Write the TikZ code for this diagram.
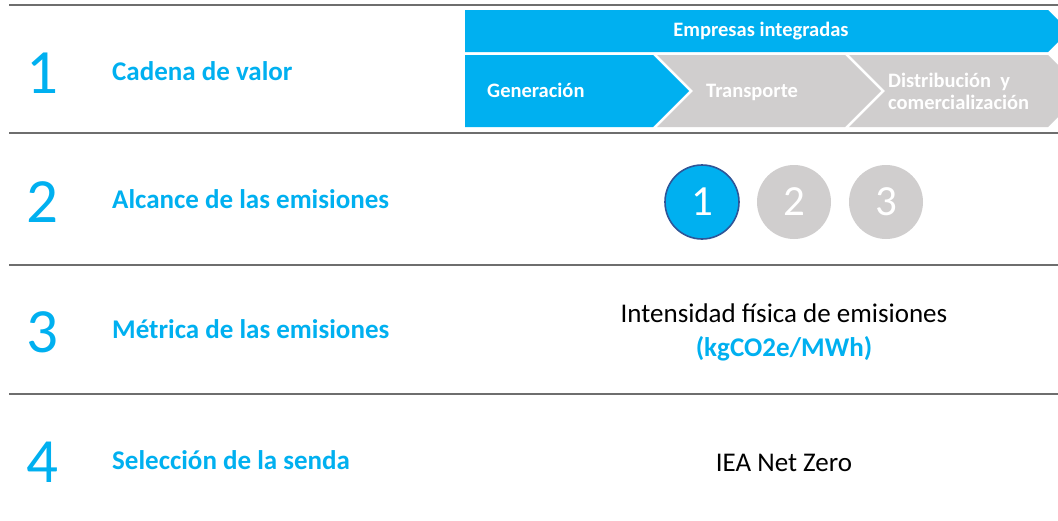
\documentclass[tikz,border=0pt]{standalone}
\usepackage{fontspec}
\setmainfont{Carlito}
\definecolor{cyanb}{HTML}{00B0F0}
\definecolor{grayc}{HTML}{D0CECE}
\definecolor{rule}{HTML}{6E6E6E}
\definecolor{darkb}{HTML}{2F5597}
\begin{document}
\begin{tikzpicture}[x=1pt,y=-1pt,
  rulel/.style={draw=rule,line width=2.6pt},
  bignum/.style={text=cyanb,font=\fontsize{63}{63}\selectfont,anchor=base},
  rowlab/.style={text=cyanb,font=\fontsize{27}{30}\selectfont\bfseries,anchor=base west,inner sep=0pt},
  chevtxt/.style={text=white,font=\fontsize{20.5}{23}\selectfont\bfseries},
  circ/.style={circle,minimum size=74pt,inner sep=0pt,text=white,font=\fontsize{43}{43}\selectfont},
  bodytxt/.style={font=\fontsize{27}{30}\selectfont,anchor=base}]
\useasboundingbox (0,0) rectangle (1058,520);
\fill[white] (0,0) rectangle (1058,520);
% rules
\draw[draw=rule,line width=1.8pt] (9,5) -- (1058,5);
\draw[rulel] (9,133) -- (1058,133);
\draw[rulel] (9,265) -- (1058,265);
\draw[rulel] (9,394) -- (1058,394);
% chevrons
\begin{scope}
\clip (0,0) rectangle (1058,520);
\fill[cyanb] (465,10) -- (1048,10) -- (1069,31) -- (1048,52) -- (465,52) -- cycle;
\fill[cyanb] (465,55) -- (653,55) -- (689,91) -- (653,127) -- (465,127) -- cycle;
\fill[grayc] (657,55) -- (845,55) -- (881,91) -- (845,127) -- (657,127) -- (693,91) -- cycle;
\fill[grayc] (849,55) -- (1048,55) -- (1084,91) -- (1048,127) -- (849,127) -- (885,91) -- cycle;
\end{scope}
\node[chevtxt] (emp) at (761,31) {Empresas integradas};
\node[chevtxt,anchor=base west,inner sep=0pt] (gen) at (487,97) {Generación};
\node[chevtxt,anchor=base west,inner sep=0pt] (tra) at (706,97) {Transporte};
\node[chevtxt,anchor=west,align=left,inner sep=0pt,font=\fontsize{20.5}{22}\selectfont\bfseries] (dis) at (888,91) {Distribución\ \ y\\comercialización};
% left column
\node[bignum] (n1) at (42,93) {1};
\node[bignum] (n2) at (42,222) {2};
\node[bignum] (n3) at (42,352) {3};
\node[bignum] (n4) at (42,482) {4};
\node[rowlab] (l1) at (112,80) {Cadena de valor};
\node[rowlab] (l2) at (112,208) {Alcance de las emisiones};
\node[rowlab] (l3) at (112,338) {Métrica de las emisiones};
\node[rowlab] (l4) at (112,469) {Selección de la senda};
% circles
\node[circ,fill=cyanb,draw=darkb,line width=1.6pt] (c1) at (702,202) {1};
\node[circ,fill=grayc] (c2) at (794,202) {2};
\node[circ,fill=grayc] (c3) at (886,202) {3};
% row 3 and 4
\node[bodytxt] (m1) at (784,322) {Intensidad física de emisiones};
\node[bodytxt,text=cyanb,font=\fontsize{27}{30}\selectfont\bfseries] (m2) at (784,356) {(kgCO2e/MWh)};
\node[bodytxt] (s1) at (784,471) {IEA Net Zero};
\end{tikzpicture}
\end{document}
